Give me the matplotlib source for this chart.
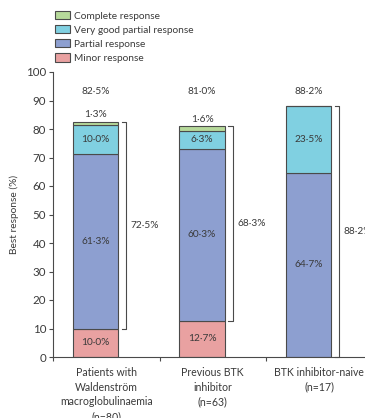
import numpy as np
import matplotlib as mpl
mpl.use("Agg")
import matplotlib.pyplot as plt
from matplotlib.patches import Patch

mpl.rcParams['font.family'] = ['Lato', 'DejaVu Sans']
mpl.rcParams['font.size'] = 7.5

groups = ["Patients with\nWaldenström\nmacroglobulinaemia\n(n=80)",
          "Previous BTK\ninhibitor\n(n=63)",
          "BTK inhibitor-naive\n(n=17)"]
minor = [10.0, 12.7, 0.0]
partial = [61.3, 60.3, 64.7]
vgpr = [10.0, 6.3, 23.5]
complete = [1.3, 1.6, 0.0]
overall = ["82·5%", "81·0%", "88·2%"]
bracket_lo = [10.0, 12.7, 0.0]
bracket_hi = [82.5, 81.0, 88.2]
bracket_txt = ["72·5%", "68·3%", "88·2%"]

names = ["Complete response", "Very good partial response", "Partial response", "Minor response"]
cols = ["#b6d99a", "#80d0e1", "#8d9fd0", "#e9a1a1"]
edge = "#4a4a4a"
txtc = "#3a3a3a"
fs = 7.3

fig = plt.figure(figsize=(3.65, 4.18), dpi=100)
ax = fig.add_axes([53/365, 61/418, 319.5/365, 285/418])

x = np.arange(3)
xb = x + 0.4
w = 0.43

def pct(v):
    return f"{v:.1f}".replace(".", "·") + "%"

bottom = np.zeros(3)
segs = [(minor, cols[3]), (partial, cols[2]), (vgpr, cols[1]), (complete, cols[0])]
for k, (vals, c) in enumerate(segs):
    vals = np.array(vals)
    ax.bar(xb, vals, w, bottom=bottom, color=c, edgecolor=edge, linewidth=0.8)
    for i in range(3):
        if vals[i] <= 0:
            continue
        if k < 3:
            ax.text(xb[i], bottom[i] + vals[i] / 2, pct(vals[i]), ha="center", va="center",
                    color=txtc, fontsize=fs)
        else:
            ax.text(xb[i], bottom[i] + vals[i] + 1.0, pct(vals[i]), ha="center", va="bottom",
                    color=txtc, fontsize=fs)
    bottom += vals

# overall response above each bar
for i in range(3):
    ax.text(xb[i], 93, overall[i], ha="center", va="center", color=txtc, fontsize=fs)

# brackets on the right of each bar
for i in range(3):
    bx = x[i] + 0.69
    ax.plot([bx - 0.045, bx, bx, bx - 0.045],
            [bracket_lo[i], bracket_lo[i], bracket_hi[i], bracket_hi[i]],
            color=edge, lw=0.8, clip_on=False)
    ax.text(bx + 0.04, (bracket_lo[i] + bracket_hi[i]) / 2, bracket_txt[i],
            ha="left", va="center", color=txtc, fontsize=fs, clip_on=False)

ax.set_xlim(0, 3)
ax.set_ylim(0, 100)
ax.set_yticks(np.arange(0, 101, 10))
ax.set_xticks([0, 1, 2, 3])
ax.set_xticklabels([])
ax.set_xticks(x + 0.5, minor=True)
ax.set_xticklabels(groups, minor=True, color=txtc, fontsize=7.6, linespacing=1.42)
ax.tick_params(axis="x", which="minor", length=0, pad=7)
ax.tick_params(axis="x", which="major", length=3, color=edge, width=0.8)
ax.tick_params(axis="y", length=3, color=edge, width=0.8, labelcolor=txtc, labelsize=8.3, pad=2)
for s in ["top", "right"]:
    ax.spines[s].set_visible(False)
for s in ["left", "bottom"]:
    ax.spines[s].set_color(edge)
    ax.spines[s].set_linewidth(0.8)
ax.set_ylabel("Best response (%)", color=txtc, fontsize=7.3, labelpad=5)

handles = [Patch(facecolor=c, edgecolor=edge, linewidth=0.8) for c in cols]
fig.legend(handles, names, loc="upper left", bbox_to_anchor=(50/365, 1 - 6/418),
           frameon=False, fontsize=7.3, handlelength=1.5, handleheight=0.85,
           handletextpad=0.35, labelspacing=0.45, labelcolor=txtc, borderpad=0)

fig.savefig("out.png", dpi=100)
